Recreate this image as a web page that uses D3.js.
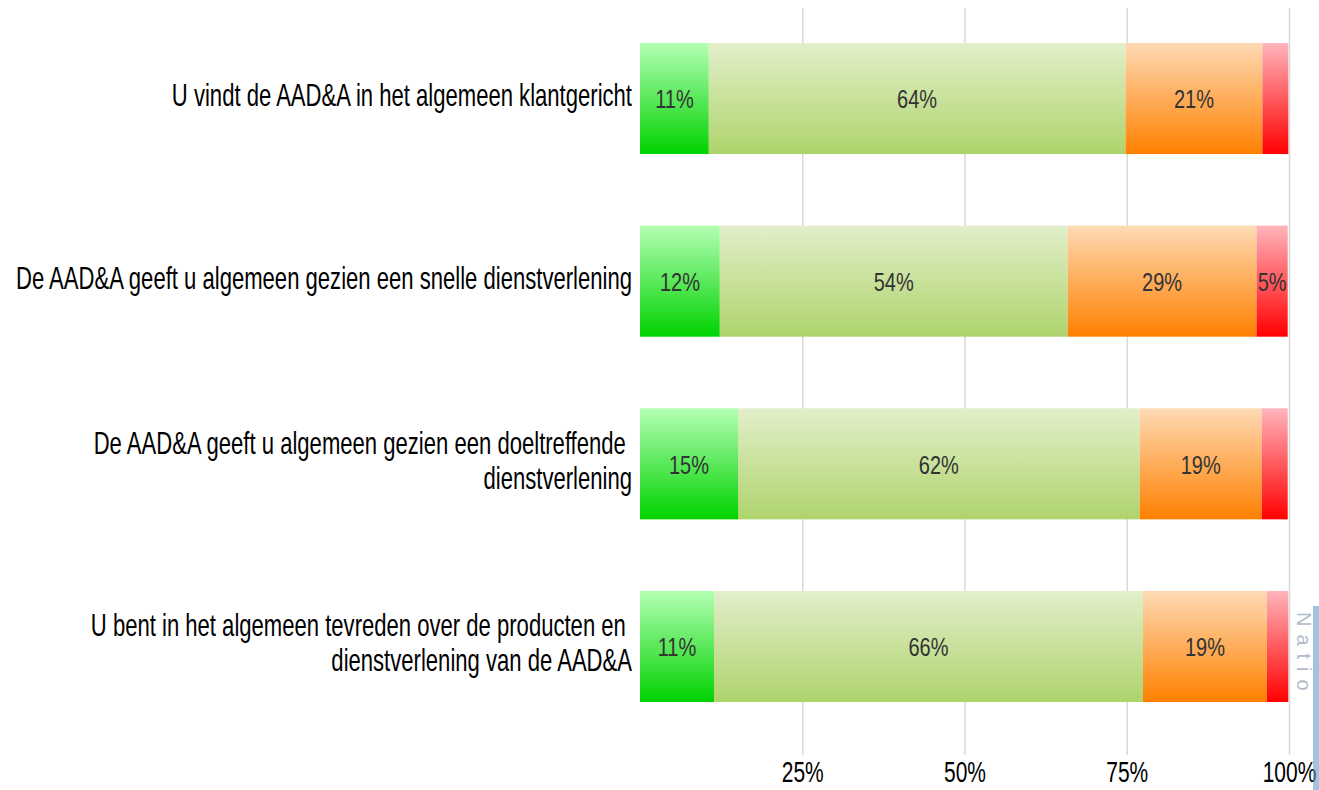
<!DOCTYPE html>
<html>
<head>
<meta charset="utf-8">
<script src="https://cdn.jsdelivr.net/npm/d3@7"></script>
<style>
  body { margin: 0; background: #fff; }
  text { font-family: "Liberation Sans", Arial, sans-serif; }
  .grid line { stroke: #d9d9d9; stroke-width: 1.5; }
  .grid .domain { display: none; }
  .x-axis .domain, .x-axis line { display: none; }
  .x-axis text { font-size: 30px; fill: #000; }
  .cat-label { font-size: 32px; fill: #000; }
  .val-label { font-size: 26.5px; fill: #333; }
</style>
</head>
<body>
<div id="chart"></div>
<script>
// questions, top to bottom
const categories = [
  ["U vindt de AAD&A in het algemeen klantgericht"],
  ["De AAD&A geeft u algemeen gezien een snelle dienstverlening"],
  ["De AAD&A geeft u algemeen gezien een doeltreffende ", "dienstverlening"],
  ["U bent in het algemeen tevreden over de producten en ", "dienstverlening van de AAD&A"]
];
// answer shares per question (percent)
const veryPositive = [10.6, 12.3, 15.1, 11.4];
const positive     = [64.2, 53.6, 61.9, 66.1];
const negative     = [21.1, 29.1, 18.8, 19.1];
const veryNegative = [4.0, 4.8, 4.0, 3.3];
const tickValues = [25, 50, 75, 100];

const seriesKeys = ["vp", "p", "n", "vn"];
const gradients = {
  vp: ["#b4ffb4", "#00d200"],
  p:  ["#e2efca", "#aed46c"],
  n:  ["#fedab4", "#ff8000"],
  vn: ["#ffb4bc", "#ff0000"]
};

const W = 1319, H = 790;
const rows = categories.map((c, i) => ({
  idx: i, label: c,
  vp: veryPositive[i], p: positive[i], n: negative[i], vn: veryNegative[i]
}));

const svg = d3.select("#chart").append("svg")
    .attr("width", W).attr("height", H);

const defs = svg.append("defs");
seriesKeys.forEach(k => {
  const g = defs.append("linearGradient")
      .attr("id", "grad-" + k)
      .attr("x1", 0).attr("y1", 0).attr("x2", 0).attr("y2", 1);
  g.append("stop").attr("offset", "0%").attr("stop-color", gradients[k][0]);
  g.append("stop").attr("offset", "100%").attr("stop-color", gradients[k][1]);
});

const x = d3.scaleLinear().domain([0, 100]).range([640, 1289]);
const y = d3.scaleBand()
    .domain(rows.map(d => d.idx))
    .range([43, 702])
    .paddingInner(0.392)
    .paddingOuter(0);

// vertical grid
svg.append("g")
    .attr("class", "grid")
    .attr("transform", "translate(0,8)")
    .call(d3.axisBottom(x).tickValues(tickValues).tickSize(747).tickFormat(""));

// stacked bars
const stack = d3.stack().keys(seriesKeys);
const layers = stack(rows);

const layer = svg.selectAll(".layer")
  .data(layers)
  .enter().append("g")
    .attr("class", "layer")
    .attr("fill", d => "url(#grad-" + d.key + ")");

layer.selectAll("rect")
  .data(d => d)
  .enter().append("rect")
    .attr("x", d => x(d[0]))
    .attr("y", d => y(d.data.idx))
    .attr("width", d => x(d[1]) - x(d[0]))
    .attr("height", y.bandwidth());

layer.selectAll(".val-label")
  .data(d => d.filter(s => Math.round(s[1] - s[0]) >= 5))
  .enter().append("text")
    .attr("class", "val-label")
    .attr("transform", d => "translate(" + (x(d[0]) + x(d[1])) / 2 + "," +
      (y(d.data.idx) + y.bandwidth() / 2) + ") scale(0.755,1)")
    .attr("dy", "0.37em")
    .attr("text-anchor", "middle")
    .text(d => Math.round(d[1] - d[0]) + "%");

// category labels (condensed, right aligned next to the bars)
const lineH = 35;
svg.selectAll(".cat-label")
  .data(rows)
  .enter().append("text")
    .attr("class", "cat-label")
    .attr("text-anchor", "end")
    .attr("transform", d => "translate(632," +
      (y(d.idx) + y.bandwidth() / 2 - (d.label.length - 1) * lineH / 2 + 7.5) +
      ") scale(0.69,1)")
    .style("white-space", "pre")
    .each(function(d) {
      d3.select(this).selectAll("tspan")
        .data(d.label)
        .enter().append("tspan")
          .attr("x", 0)
          .attr("dy", (t, i) => i === 0 ? 0 : lineH)
          .text(t => t);
    });

// x axis
svg.append("g")
    .attr("class", "x-axis")
    .attr("transform", "translate(0,782)")
    .call(d3.axisBottom(x).tickValues(tickValues).tickSize(0).tickPadding(0)
      .tickFormat(d => d + "%"))
  .selectAll("text")
    .attr("y", 0)
    .attr("dy", 0)
    .attr("transform", "scale(0.7,1)");

// partial logo at the right edge
const logo = svg.append("g").attr("opacity", 0.55);
logo.append("rect").attr("x", 1313).attr("y", 606).attr("width", 6).attr("height", 184)
    .attr("fill", "#5b8fc4");
logo.append("text")
    .attr("transform", "translate(1297,612) rotate(90)")
    .attr("fill", "#6f84a0")
    .style("font-size", "20px")
    .style("letter-spacing", "8px")
    .text("Natio");
</script>
</body>
</html>
